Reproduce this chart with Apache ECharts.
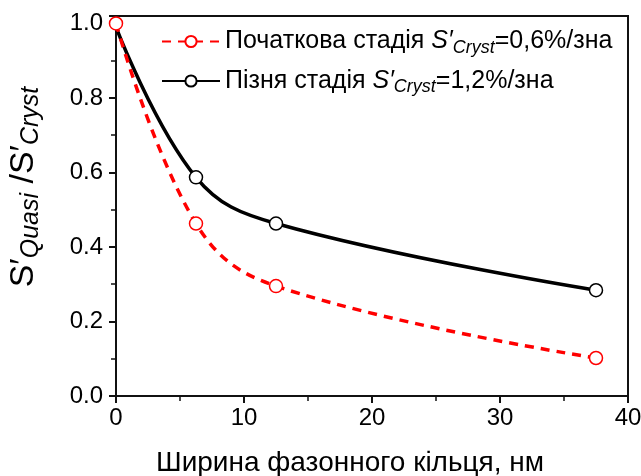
<!DOCTYPE html>
<html lang="uk">
<head>
    <meta charset="UTF-8">
    <title>S'Quasi / S'Cryst</title>
    <style>
        body { margin: 0; background: #fff; }
        #chart { width: 641px; height: 476px; }
    </style>
    <script src="https://cdn.jsdelivr.net/npm/echarts@6/dist/echarts.min.js"></script>
</head>
<body>
<div id="chart"></div>
<script>
    // ширина кільця, нм
    const ringWidth = [0, 6.25, 12.5, 37.5];
    // початкова стадія (червона пунктирна)
    const earlyStage = [1.0, 0.463, 0.295, 0.102];
    // пізня стадія (чорна суцільна)
    const lateStage = [0.99, 0.587, 0.463, 0.284];
    const xTicks = [0, 10, 20, 30, 40];
    const yTicks = [0.0, 0.2, 0.4, 0.6, 0.8, 1.0];

    const font = 'Liberation Sans, Arial, sans-serif';
    const legendRich = {
        n: { fontFamily: font, fontSize: 25, color: '#000' },
        i: { fontFamily: font, fontSize: 25, fontStyle: 'italic', color: '#000' },
        s: { fontFamily: font, fontSize: 18, fontStyle: 'italic', color: '#000', padding: [12, 0, 0, 0] }
    };

    function pairs(xs, ys) {
        return xs.map((x, i) => [x, ys[i]]);
    }

    // перша точка пізньої стадії без маркера (як на оригіналі)
    const lateData = pairs(ringWidth, lateStage).map((p, i) => i === 0 ? { value: p, symbol: 'none' } : p);

    const chart = echarts.init(document.getElementById('chart'));
    chart.setOption({
        animation: false,
        grid: {
            left: 116, right: 13, top: 16, bottom: 80, outerBoundsMode: 'none',
            show: true, borderColor: '#111', borderWidth: 2
        },
        legend: {
            left: 156, top: 24, orient: 'vertical', itemGap: 12,
            itemWidth: 58, itemHeight: 14,
            textStyle: { rich: legendRich },
            formatter: function (name) {
                if (name === 'early') return '{n|Початкова стадія }{i|S′}{s|Cryst}{n|=0,6%/зна}';
                return '{n|Пізня стадія }{i|S′}{s|Cryst}{n|=1,2%/зна}';
            },
            data: ['early', 'late']
        },
        xAxis: {
            type: 'value', min: 0, max: 40, interval: 10,
            name: 'Ширина фазонного кільця, нм', nameLocation: 'middle', nameGap: 53,
            nameTextStyle: { fontFamily: font, fontSize: 28, color: '#000', padding: [0, 44, 0, 0] },
            axisLine: { lineStyle: { color: '#111', width: 2 } },
            axisTick: { inside: false, length: 7, lineStyle: { color: '#111', width: 2 } },
            minorTick: { show: true, splitNumber: 2, length: 5, lineStyle: { color: '#111', width: 1.5 } },
            axisLabel: { fontFamily: font, fontSize: 24, color: '#000', margin: 10,
                formatter: v => xTicks.includes(v) ? String(v) : '' },
            splitLine: { show: false }
        },
        yAxis: {
            type: 'value', min: 0, max: 1.02, interval: 0.2,
            name: '{i|S′}{s|Quasi}{i| /S′}{s|Cryst}', nameLocation: 'middle', nameGap: 72,
            nameTextStyle: {
                padding: [0, 0, 0, 38],
                rich: {
                    i: { fontFamily: font, fontSize: 34, color: '#000' },
                    s: { fontFamily: font, fontSize: 25, fontStyle: 'italic', color: '#000', padding: [16, 0, 0, 0] }
                }
            },
            axisLine: { show: true, lineStyle: { color: '#111', width: 2 } },
            axisTick: { show: true, length: 7, lineStyle: { color: '#111', width: 2 } },
            minorTick: { show: true, splitNumber: 2, length: 5, lineStyle: { color: '#111', width: 1.5 } },
            axisLabel: { fontFamily: font, fontSize: 24, color: '#000', margin: 13,
                formatter: v => yTicks.some(t => Math.abs(t - v) < 1e-6) ? v.toFixed(1) : '' },
            splitLine: { show: false }
        },
        series: [
            {
                name: 'late', type: 'line', smooth: 0.4, z: 2,
                data: lateData,
                symbol: 'circle', symbolSize: 13,
                itemStyle: { color: '#fff', borderColor: '#000', borderWidth: 1.5 },
                lineStyle: { color: '#000', width: 3.5 }
            },
            {
                name: 'early', type: 'line', smooth: 0.4, z: 3,
                data: pairs(ringWidth, earlyStage),
                symbol: 'circle', symbolSize: 13,
                itemStyle: { color: '#fff', borderColor: '#ff0000', borderWidth: 1.5 },
                lineStyle: { color: '#ff0000', width: 3.5, type: [9, 7] }
            }
        ]
    });
</script>
</body>
</html>
